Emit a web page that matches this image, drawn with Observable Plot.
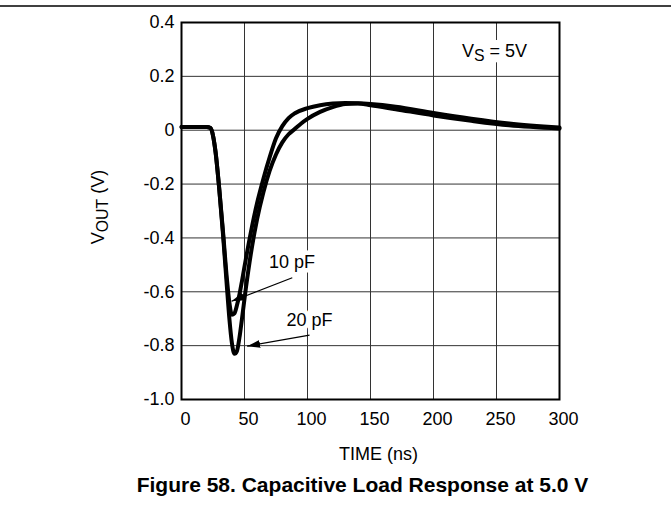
<!DOCTYPE html>
<html><head><meta charset="utf-8">
<script src="https://cdn.jsdelivr.net/npm/d3@7"></script>
<script src="https://cdn.jsdelivr.net/npm/@observablehq/plot@0.6"></script>
<style>body{margin:0;background:#fff}</style>
</head><body><div id="chart"></div>
<script>
// ---- data ----
const t10 = [0, 10, 20, 23, 25, 27, 30, 33, 36, 38, 40, 42, 44, 46, 48, 51, 55, 60, 65, 70, 75, 80, 85, 90, 100, 110, 120, 130, 140, 150, 170, 200, 230, 260, 300];
const v10 = [0.012, 0.012, 0.012, 0.008, -0.02, -0.08, -0.22, -0.38, -0.55, -0.64, -0.685, -0.68, -0.65, -0.61, -0.56, -0.48, -0.38, -0.27, -0.18, -0.10, -0.03, 0.015, 0.045, 0.063, 0.082, 0.093, 0.099, 0.101, 0.100, 0.097, 0.087, 0.064, 0.043, 0.025, 0.010];
const t20 = [0, 10, 20, 23, 25, 27, 30, 33, 36, 38, 40, 42, 44, 46, 48, 51, 55, 60, 65, 70, 75, 80, 85, 90, 95, 100, 110, 120, 130, 140, 150, 170, 200, 230, 260, 300];
const v20 = [0.012, 0.012, 0.012, 0.008, -0.02, -0.08, -0.22, -0.39, -0.58, -0.70, -0.79, -0.83, -0.82, -0.77, -0.70, -0.59, -0.46, -0.33, -0.23, -0.15, -0.09, -0.045, -0.015, 0.005, 0.025, 0.042, 0.068, 0.086, 0.097, 0.099, 0.093, 0.078, 0.055, 0.035, 0.018, 0.006];

const xTicks = [0, 50, 100, 150, 200, 250, 300];
const yTicks = [-1.0, -0.8, -0.6, -0.4, -0.2, 0, 0.2, 0.4];
const yTickLabels = ["-1.0", "-0.8", "-0.6", "-0.4", "-0.2", "0", "0.2", "0.4"];

const annLabels = ["10 pF", "20 pF"];
const annLabelT = [87.7, 101.6];
const annLabelV = [-0.49, -0.704];
const arrowT1 = [87.9, 101.6];
const arrowV1 = [-0.548, -0.761];
const arrowT2 = [39.7, 52.1];
const arrowV2 = [-0.635, -0.802];

const supplyLabel = ["VS = 5V"];
const supplyT = [248.4];
const supplyV = [0.295];

const xTitle = "TIME (ns)";
const yTitle = "VOUT (V)";
const caption = "Figure 58. Capacitive Load Response at 5.0 V";

// ---- build tables ----
const series = [
  ...t10.map((t, i) => ({t, v: v10[i], s: "10 pF"})),
  ...t20.map((t, i) => ({t, v: v20[i], s: "20 pF"}))
];
const ann = annLabels.map((label, i) => ({label, t: annLabelT[i], v: annLabelV[i], t1: arrowT1[i], v1: arrowV1[i], t2: arrowT2[i], v2: arrowV2[i]}));
const sup = supplyLabel.map((label, i) => ({label, t: supplyT[i], v: supplyV[i]}));

function filledArrow(color, context) {
  const doc = (context && context.document) || document;
  const ns = "http://www.w3.org/2000/svg";
  const m = doc.createElementNS(ns, "marker");
  m.setAttribute("viewBox", "-13 -5 13 10");
  m.setAttribute("markerWidth", 13);
  m.setAttribute("markerHeight", 10);
  m.setAttribute("markerUnits", "userSpaceOnUse");
  m.setAttribute("orient", "auto");
  m.setAttribute("refX", 0);
  m.setAttribute("refY", 0);
  const p = doc.createElementNS(ns, "path");
  p.setAttribute("d", "M-13,-4L0,0L-13,4Z");
  p.setAttribute("fill", color === "currentColor" ? "black" : color);
  p.setAttribute("stroke", "none");
  m.appendChild(p);
  return m;
}

const font = "'Liberation Sans', Arial, Helvetica, sans-serif";
const yLab = d => yTickLabels[yTicks.findIndex(v => Math.abs(v - d) < 1e-9)];

const chart = Plot.plot({
  width: 671,
  height: 508,
  marginLeft: 181,
  marginRight: 112,
  marginTop: 22,
  marginBottom: 109,
  style: {fontFamily: font, fontSize: "18px", color: "black", background: "white", overflow: "visible"},
  x: {domain: [0, 300]},
  y: {domain: [-1.0, 0.4]},
  marks: [
    Plot.gridX(xTicks, {stroke: "#333", strokeOpacity: 1, strokeWidth: 1}),
    Plot.gridY(yTicks, {stroke: "#333", strokeOpacity: 1, strokeWidth: 1}),
    Plot.axisX(xTicks, {tickSize: 0, tickPadding: 13, dx: 4, label: null, fontSize: 18, tickFormat: d => String(d)}),
    Plot.axisY(yTicks, {tickSize: 0, tickPadding: 7, label: null, fontSize: 18, tickFormat: yLab}),
    Plot.line(series, {x: "t", y: "v", z: "s", stroke: "black", strokeWidth: 4, curve: "monotone-x", strokeLinejoin: "round", strokeLinecap: "round"}),
    Plot.frame({stroke: "black", strokeWidth: 2}),
    Plot.text(ann, {x: "t", y: "v", text: "label", fontSize: 18, fill: "black", stroke: "white", strokeWidth: 9, paintOrder: "stroke"}),
    Plot.link(ann, {x1: "t1", y1: "v1", x2: "t2", y2: "v2", stroke: "black", strokeWidth: 1.2, markerEnd: filledArrow}),
    // white knock-out under the supply label, then the label itself
    Plot.text(sup, {x: "t", y: "v", text: "label", fontSize: 18, fill: "white", stroke: "white", strokeWidth: 16, strokeLinejoin: "round"}),
    Plot.text(sup, {x: "t", y: "v", text: "label", fontSize: 18, fill: "black"}),
    Plot.text([xTitle], {frameAnchor: "bottom", textAnchor: "middle", lineAnchor: "middle", dy: 54.5, dx: 8, fontSize: 18, fill: "black"}),
    Plot.text([yTitle], {frameAnchor: "left", textAnchor: "middle", lineAnchor: "middle", dx: -83, dy: -4, rotate: -90, fontSize: 18, fill: "black"}),
    Plot.text([caption], {frameAnchor: "bottom", textAnchor: "middle", lineAnchor: "middle", dy: 86, dx: -8, fontSize: 21, fontWeight: "bold", fill: "black"})
  ]
});

document.getElementById("chart").appendChild(chart);

// subscripts for the symbol labels
const svg = d3.select(chart);
function subscript(full, base, sub, rest, shift) {
  svg.selectAll("text").filter(function () { return this.textContent === full; }).each(function () {
    const el = d3.select(this);
    el.text(null);
    el.append("tspan").text(base);
    el.append("tspan").attr("dy", shift).attr("font-size", "0.88em").text(sub);
    el.append("tspan").attr("dy", -shift).text(rest);
  });
}
subscript("VS = 5V", "V", "S", " = 5V", 4);
subscript("VOUT (V)", "V", "OUT", " (V)", 4);

// decorative top rule across the page
svg.append("line").attr("x1", 0).attr("x2", 671).attr("y1", 6).attr("y2", 6).attr("stroke", "black").attr("stroke-width", 1.5);
</script></body></html>
